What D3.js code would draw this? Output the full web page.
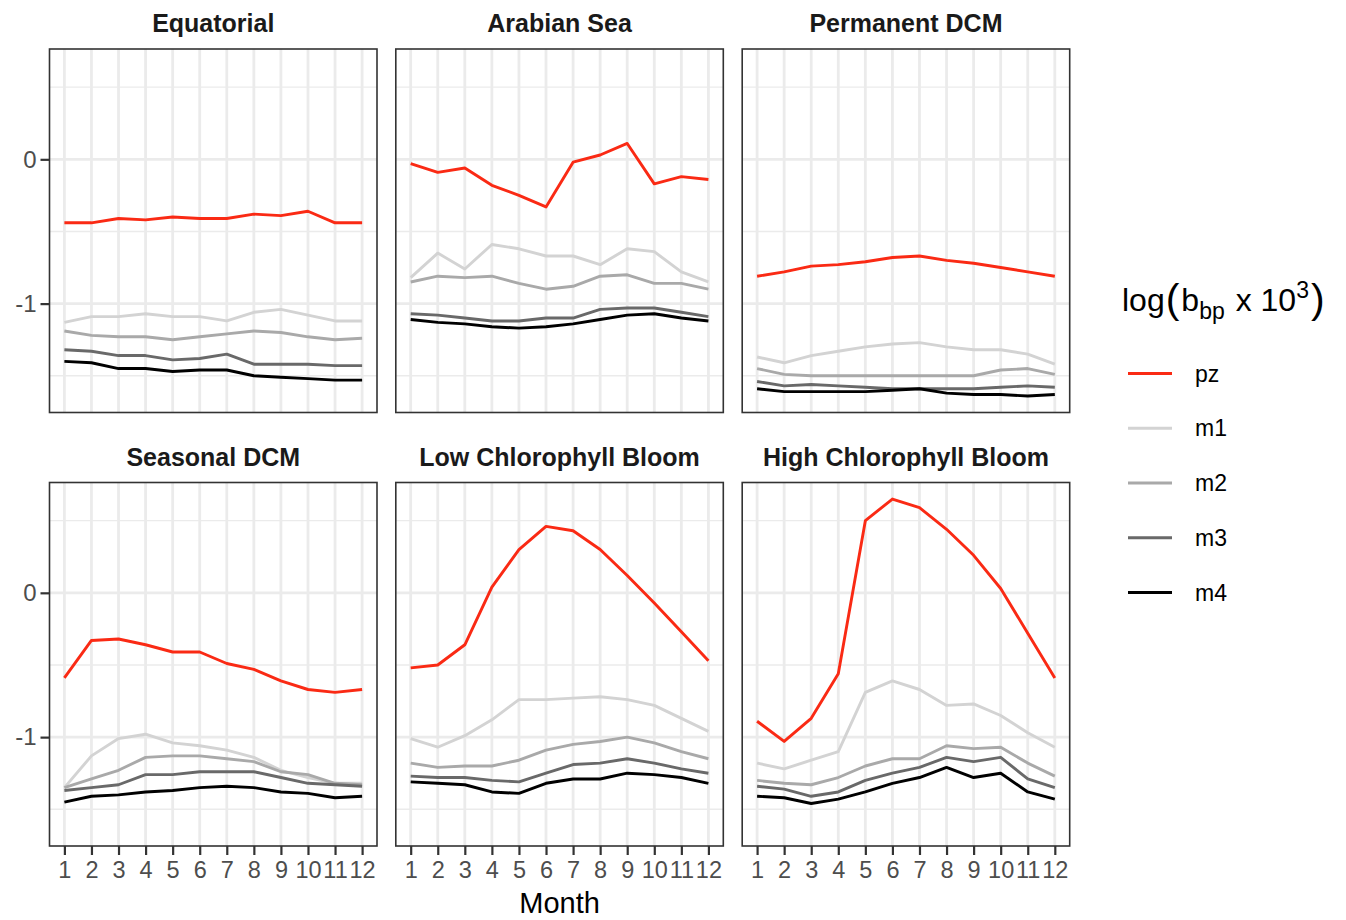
<!DOCTYPE html>
<html>
<head>
<meta charset="utf-8">
<script src="https://cdn.jsdelivr.net/npm/d3@7"></script>
<style>
  body { margin: 0; background: #fff; }
  text { font-family: "Liberation Sans", Arial, sans-serif; }
</style>
</head>
<body>
<div id="chart-area"></div>
<script>
// monthly log(bbp x 10^3) per region, rows = pz, m1, m2, m3, m4
const MONTHS = [1, 2, 3, 4, 5, 6, 7, 8, 9, 10, 11, 12]
const SERIES = ["pz", "m1", "m2", "m3", "m4"]
const REGIONS = ["Equatorial", "Arabian Sea", "Permanent DCM",
  "Seasonal DCM", "Low Chlorophyll Bloom", "High Chlorophyll Bloom"]
const Y_TICKS = [0, -1]
const Y_MINOR = [0.5, -0.5, -1.5]

const equatorial = [
  [-0.44, -0.44, -0.41, -0.42, -0.40, -0.41, -0.41, -0.38, -0.39, -0.36, -0.44, -0.44],
  [-1.13, -1.09, -1.09, -1.07, -1.09, -1.09, -1.12, -1.06, -1.04, -1.08, -1.12, -1.12],
  [-1.19, -1.22, -1.23, -1.23, -1.25, -1.23, -1.21, -1.19, -1.20, -1.23, -1.25, -1.24],
  [-1.32, -1.33, -1.36, -1.36, -1.39, -1.38, -1.35, -1.42, -1.42, -1.42, -1.43, -1.43],
  [-1.40, -1.41, -1.45, -1.45, -1.47, -1.46, -1.46, -1.50, -1.51, -1.52, -1.53, -1.53]
]
const arabianSea = [
  [-0.03, -0.09, -0.06, -0.18, -0.25, -0.33, -0.02, 0.03, 0.11, -0.17, -0.12, -0.14],
  [-0.82, -0.65, -0.76, -0.59, -0.62, -0.67, -0.67, -0.73, -0.62, -0.64, -0.78, -0.85],
  [-0.85, -0.81, -0.82, -0.81, -0.86, -0.90, -0.88, -0.81, -0.80, -0.86, -0.86, -0.90],
  [-1.07, -1.08, -1.10, -1.12, -1.12, -1.10, -1.10, -1.04, -1.03, -1.03, -1.06, -1.09],
  [-1.11, -1.13, -1.14, -1.16, -1.17, -1.16, -1.14, -1.11, -1.08, -1.07, -1.10, -1.12]
]
const permanentDCM = [
  [-0.81, -0.78, -0.74, -0.73, -0.71, -0.68, -0.67, -0.70, -0.72, -0.75, -0.78, -0.81],
  [-1.37, -1.41, -1.36, -1.33, -1.30, -1.28, -1.27, -1.30, -1.32, -1.32, -1.35, -1.42],
  [-1.45, -1.49, -1.50, -1.50, -1.50, -1.50, -1.50, -1.50, -1.50, -1.46, -1.45, -1.49],
  [-1.54, -1.57, -1.56, -1.57, -1.58, -1.59, -1.59, -1.59, -1.59, -1.58, -1.57, -1.58],
  [-1.59, -1.61, -1.61, -1.61, -1.61, -1.60, -1.59, -1.62, -1.63, -1.63, -1.64, -1.63]
]
const seasonalDCM = [
  [-0.59, -0.33, -0.32, -0.36, -0.41, -0.41, -0.49, -0.53, -0.61, -0.67, -0.69, -0.67],
  [-1.35, -1.13, -1.01, -0.98, -1.04, -1.06, -1.09, -1.14, -1.23, -1.28, -1.32, -1.32],
  [-1.35, -1.29, -1.23, -1.14, -1.13, -1.13, -1.15, -1.17, -1.24, -1.26, -1.32, -1.33],
  [-1.37, -1.35, -1.33, -1.26, -1.26, -1.24, -1.24, -1.24, -1.28, -1.32, -1.33, -1.34],
  [-1.45, -1.41, -1.40, -1.38, -1.37, -1.35, -1.34, -1.35, -1.38, -1.39, -1.42, -1.41]
]
const lowChlBloom = [
  [-0.52, -0.50, -0.36, 0.04, 0.30, 0.46, 0.43, 0.30, 0.12, -0.07, -0.27, -0.47],
  [-1.01, -1.07, -0.99, -0.88, -0.74, -0.74, -0.73, -0.72, -0.74, -0.78, -0.87, -0.96],
  [-1.18, -1.21, -1.20, -1.20, -1.16, -1.09, -1.05, -1.03, -1.00, -1.04, -1.10, -1.15],
  [-1.27, -1.28, -1.28, -1.30, -1.31, -1.25, -1.19, -1.18, -1.15, -1.18, -1.22, -1.25],
  [-1.31, -1.32, -1.33, -1.38, -1.39, -1.32, -1.29, -1.29, -1.25, -1.26, -1.28, -1.32]
]
const highChlBloom = [
  [-0.89, -1.03, -0.87, -0.56, 0.50, 0.65, 0.59, 0.44, 0.26, 0.03, -0.28, -0.59],
  [-1.18, -1.22, -1.16, -1.10, -0.69, -0.61, -0.67, -0.78, -0.77, -0.85, -0.97, -1.07],
  [-1.30, -1.32, -1.33, -1.28, -1.20, -1.15, -1.15, -1.06, -1.08, -1.07, -1.18, -1.27],
  [-1.34, -1.36, -1.41, -1.38, -1.30, -1.25, -1.21, -1.14, -1.17, -1.14, -1.29, -1.35],
  [-1.41, -1.42, -1.46, -1.43, -1.38, -1.32, -1.28, -1.21, -1.28, -1.25, -1.38, -1.43]
]
const REGION_DATA = [equatorial, arabianSea, permanentDCM, seasonalDCM, lowChlBloom, highChlBloom]

const COLORS = ["#FA2A14", "#D3D3D3", "#A9A9A9", "#696969", "#000000"]

const WIDTH = 1346
const HEIGHT = 920
const PANEL = { W: 327.5, H: 363.5 }
const PANEL_X = [49.5, 395.8, 742.2]
const PANEL_Y = [49, 482.5]

const svg = d3.select("#chart-area").append("svg")
  .attr("width", WIDTH)
  .attr("height", HEIGHT)

// fixed scales shared by all facets, ggplot-style 5% expansion
const allValues = REGION_DATA.flat(2)
const [yMin, yMax] = d3.extent(allValues)
const yPad = (yMax - yMin) * 0.05
const xPad = (d3.max(MONTHS) - d3.min(MONTHS)) * 0.05

const x = d3.scaleLinear()
  .domain([d3.min(MONTHS) - xPad, d3.max(MONTHS) + xPad])
  .range([0, PANEL.W])

const y = d3.scaleLinear()
  .domain([yMin - yPad, yMax + yPad])
  .range([PANEL.H, 0])

const line = d3.line()
  .x((d, i) => x(MONTHS[i]))
  .y(d => y(d))

// plain hyphen like R does, not the unicode minus
const fmt = d => (d < 0 ? "-" : "") + Math.abs(d)

REGIONS.forEach((name, r) => {
  const col = r % 3
  const row = Math.floor(r / 3)
  const g = svg.append("g")
    .attr("transform", `translate(${PANEL_X[col]}, ${PANEL_Y[row]})`)

  // grid
  g.selectAll(".minor").data(Y_MINOR).enter().append("line")
    .attr("x1", 0).attr("x2", PANEL.W)
    .attr("y1", d => y(d)).attr("y2", d => y(d))
    .attr("stroke", "#EBEBEB").attr("stroke-width", 1.4)
  g.selectAll(".ymajor").data(Y_TICKS).enter().append("line")
    .attr("x1", 0).attr("x2", PANEL.W)
    .attr("y1", d => y(d)).attr("y2", d => y(d))
    .attr("stroke", "#EBEBEB").attr("stroke-width", 2.8)
  g.selectAll(".xmajor").data(MONTHS).enter().append("line")
    .attr("x1", d => x(d)).attr("x2", d => x(d))
    .attr("y1", 0).attr("y2", PANEL.H)
    .attr("stroke", "#EBEBEB").attr("stroke-width", 2.8)

  // lines
  REGION_DATA[r].forEach((vals, s) => {
    g.append("path")
      .datum(vals)
      .attr("d", line)
      .attr("fill", "none")
      .attr("stroke", COLORS[s])
      .attr("stroke-width", 2.9)
      .attr("stroke-linejoin", "round")
  })

  // border
  g.append("rect")
    .attr("width", PANEL.W)
    .attr("height", PANEL.H)
    .attr("fill", "none")
    .attr("stroke", "#333333")
    .attr("stroke-width", 1.6)

  // strip title
  g.append("text")
    .attr("x", PANEL.W / 2)
    .attr("y", -26)
    .attr("text-anchor", "middle")
    .attr("dominant-baseline", "central")
    .attr("font-size", "25px")
    .attr("font-weight", "bold")
    .attr("fill", "#1A1A1A")
    .text(name)

  // y axis on first column
  if (col === 0) {
    const yAxis = g.append("g")
      .call(d3.axisLeft(y).tickValues(Y_TICKS).tickSize(9).tickPadding(4).tickFormat(fmt))
    yAxis.select(".domain").remove()
    yAxis.selectAll("line").attr("stroke", "#333333").attr("stroke-width", 2.2)
    yAxis.selectAll("text")
      .attr("font-size", "24px")
      .attr("fill", "#4D4D4D")
      .style("font-family", "'Liberation Sans', Arial, sans-serif")
  }

  // x axis on bottom row
  if (row === 1) {
    const xAxis = g.append("g")
      .attr("transform", `translate(0, ${PANEL.H})`)
      .call(d3.axisBottom(x).tickValues(MONTHS).tickSize(9).tickPadding(6).tickFormat(fmt))
    xAxis.select(".domain").remove()
    xAxis.selectAll("line").attr("stroke", "#333333").attr("stroke-width", 2.2)
    xAxis.selectAll("text")
      .attr("font-size", "23.5px")
      .attr("fill", "#4D4D4D")
      .style("font-family", "'Liberation Sans', Arial, sans-serif")
  }
})

// X label
svg.append("text")
  .attr("x", PANEL_X[1] + PANEL.W / 2)
  .attr("y", 913)
  .attr("text-anchor", "middle")
  .attr("font-size", "29px")
  .attr("fill", "#000")
  .text("Month")

// Legend
const legend = svg.append("g")
  .attr("transform", "translate(1122, 0)")

const title = legend.append("text")
  .attr("x", 0)
  .attr("y", 311)
  .attr("font-size", "32px")
  .attr("fill", "#000")
title.append("tspan").text("log")
title.append("tspan").attr("font-size", "41px").attr("dy", 2).attr("dx", 1).text("(")
title.append("tspan").attr("dy", -2).attr("dx", 2).text("b")
title.append("tspan").attr("font-size", "23px").attr("dy", 8).text("bp")
title.append("tspan").attr("dy", -8).attr("dx", 2).text(" x 10")
title.append("tspan").attr("font-size", "23px").attr("dy", -13).text("3")
title.append("tspan").attr("font-size", "41px").attr("dy", 15).attr("dx", 2).text(")")

const LEGEND_Y = d3.scalePoint()
  .domain(SERIES)
  .range([373.5, 592.5])

SERIES.forEach((s, i) => {
  legend.append("line")
    .attr("x1", 6).attr("x2", 50)
    .attr("y1", LEGEND_Y(s)).attr("y2", LEGEND_Y(s))
    .attr("stroke", COLORS[i])
    .attr("stroke-width", 2.9)
  legend.append("text")
    .attr("x", 73)
    .attr("y", LEGEND_Y(s))
    .attr("dominant-baseline", "central")
    .attr("font-size", "23px")
    .attr("fill", "#000")
    .text(s)
})
</script>
</body>
</html>
